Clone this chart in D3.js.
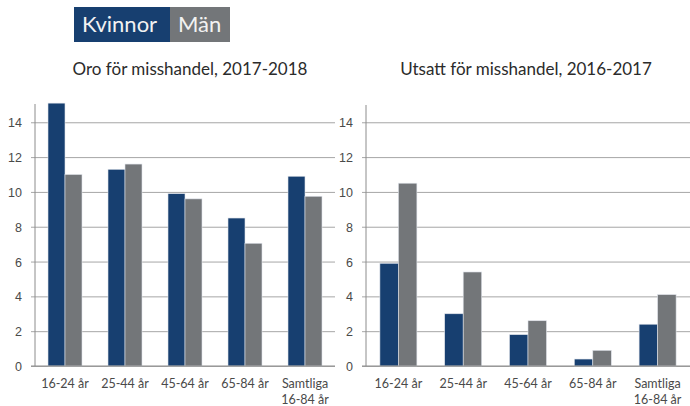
<!doctype html>
<html>
<head>
  <meta charset="utf-8">
  <script src="https://d3js.org/d3.v7.min.js"></script>
  <style>
    body { margin:0; background:#fff; font-family:Lato, sans-serif; }
    svg { display:block }
    .grid line { stroke:#a6a6a6; stroke-width:1 }
    .tick text { fill:#4a4a4a; font-size:12.5px }
    .title { fill:#2b2b2b; font-size:17px }
  </style>
</head>
<body>
  <svg id="chart" width="690" height="406"></svg>
  <script>
    const categories = ["16-24 år", "25-44 år", "45-64 år", "65-84 år", "Samtliga\n16-84 år"];
    const series     = ["Kvinnor", "Män"];
    const colors     = ["#173f70", "#737679"];
    const yTicks     = [0, 2, 4, 6, 8, 10, 12, 14];

    const oroKvinnor    = [15.1, 11.3, 9.9, 8.5, 10.9];
    const oroMan        = [11.0, 11.6, 9.6, 7.05, 9.75];
    const utsattKvinnor = [5.9, 3.0, 1.8, 0.4, 2.4];
    const utsattMan     = [10.5, 5.4, 2.6, 0.9, 4.1];

    const svg = d3.select("#chart");

    // legend boxes
    const legend = svg.append("g").attr("transform","translate(74,7)");
    const legW = [96, 60];
    let lx = 0;
    series.forEach((s,i) => {
      legend.append("rect").attr("x",lx).attr("y",0)
        .attr("width",legW[i]).attr("height",35).attr("fill",colors[i]);
      legend.append("text").attr("x",lx+8).attr("y",25)
        .attr("fill","#f2f2f2").attr("font-size","22px").text(s);
      lx += legW[i];
    });

    const y = d3.scaleLinear().domain([0,15.05]).range([366,104]);

    function drawPanel(opts) {
      const g = svg.append("g");
      const x0 = d3.scaleBand().domain(categories).range([opts.x0, opts.x1]);
      const x1 = d3.scaleBand().domain(series)
        .range([x0.bandwidth()/2 - opts.barW, x0.bandwidth()/2 + opts.barW]);

      // grid + ticks
      g.append("g").attr("class","grid")
        .attr("transform",`translate(${opts.x0},0)`)
        .call(d3.axisLeft(y).tickValues(yTicks).tickSize(-(opts.x1-opts.x0)).tickSizeOuter(0).tickPadding(0))
        .call(a => a.select(".domain").remove())
        .call(a => a.selectAll(".tick line").attr("x1",-4))
        .call(a => a.selectAll(".tick text").attr("x",-13).attr("dy","0.36em"));

      // y axis line
      g.append("line").attr("x1",opts.x0).attr("x2",opts.x0)
        .attr("y1",y(0)).attr("y2",opts.top).attr("stroke","#8c8c8c");

      const data = [opts.a, opts.b];
      categories.forEach((c,ci) => {
        series.forEach((s,si) => {
          g.append("rect")
            .attr("x", x0(c) + x1(s))
            .attr("y", y(data[si][ci]))
            .attr("width", x1.bandwidth())
            .attr("height", y(0) - y(data[si][ci]))
            .attr("fill", colors[si])
            .attr("stroke","#dfe3ea").attr("stroke-width",0.6);
        });
        const lines = c.split("\n");
        const t = g.append("text").attr("text-anchor","middle")
          .attr("x", x0(c) + x0.bandwidth()/2).attr("y",388)
          .attr("fill","#4a4a4a").attr("font-size","12.5px");
        lines.forEach((l,li) => t.append("tspan")
          .attr("x", x0(c) + x0.bandwidth()/2).attr("dy", li ? 16 : 0).text(l));
      });

      // baseline
      g.append("line").attr("x1",opts.x0-4).attr("x2",opts.x1)
        .attr("y1",y(0)).attr("y2",y(0)).attr("stroke","#8c8c8c");

      svg.append("text").attr("class","title").attr("text-anchor","middle")
        .attr("x",opts.titleX).attr("y",75).text(opts.title);
    }

    drawPanel({x0:35, x1:335, barW:17, top:104, a:oroKvinnor, b:oroMan,
      title:"Oro för misshandel, 2017-2018", titleX:190});
    drawPanel({x0:366, x1:690, barW:18.5, top:105, a:utsattKvinnor, b:utsattMan,
      title:"Utsatt för misshandel, 2016-2017", titleX:526});
  </script>
</body>
</html>
